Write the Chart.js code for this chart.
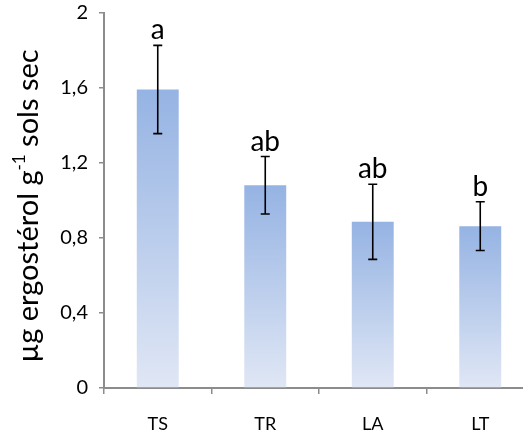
<!DOCTYPE html>
<html>
<head>
<meta charset="utf-8">
<script src="https://cdn.jsdelivr.net/npm/chart.js@4.4.1/dist/chart.umd.min.js"></script>
<style>
  html, body { margin: 0; padding: 0; background: #fff; overflow: hidden; }
  #wrap { width: 545px; height: 434px; }
</style>
</head>
<body>
<div id="wrap"><canvas id="ergoChart"></canvas></div>
<script>
// data
var categories = ["TS", "TR", "LA", "LT"];
var means = [1.59, 1.08, 0.885, 0.862];
var errors = [0.235, 0.153, 0.2, 0.13];
var letters = ["a", "ab", "ab", "b"];
var yTicks = [0, 0.4, 0.8, 1.2, 1.6, 2];
var yTickLabels = ["0", "0,4", "0,8", "1,2", "1,6", "2"];

var axisGrey = '#8c8c8c';

// error bars + significance letters + y title with superscript
var extrasPlugin = {
    id: 'extras',
    afterDatasetsDraw: function(chart) {
        var c = chart.ctx;
        var meta = chart.getDatasetMeta(0);
        var y = chart.scales.y;
        c.save();
        c.strokeStyle = '#000';
        c.lineWidth = 1.6;
        c.fillStyle = '#000';
        c.font = '28px Lato';
        c.textAlign = 'center';
        c.textBaseline = 'alphabetic';
        meta.data.forEach(function(bar, i) {
            var x = bar.x;
            var top = y.getPixelForValue(means[i] + errors[i]);
            var bot = y.getPixelForValue(means[i] - errors[i]);
            c.beginPath();
            c.moveTo(x, top); c.lineTo(x, bot);
            c.moveTo(x - 4.5, top); c.lineTo(x + 4.5, top);
            c.moveTo(x - 4.5, bot); c.lineTo(x + 4.5, bot);
            c.stroke();
            c.fillText(letters[i], x, top - 6);
        });
        c.restore();
    },
    afterDraw: function(chart) {
        var c = chart.ctx;
        var main = 'µg ergostérol g';
        var sup = '-1';
        var rest = ' sols sec';
        c.save();
        c.fillStyle = '#000';
        c.textBaseline = 'alphabetic';
        c.font = '29px Lato';
        var w1 = c.measureText(main).width;
        var w3 = c.measureText(rest).width;
        c.font = '17px Lato';
        var w2 = c.measureText(sup).width;
        var total = w1 + w2 + w3;
        c.translate(38, 206);
        c.rotate(-Math.PI / 2);
        var sx = -total / 2;
        c.font = '29px Lato';
        c.fillText(main, sx, 0);
        c.font = '17px Lato';
        c.fillText(sup, sx + w1, -13);
        c.font = '29px Lato';
        c.fillText(rest, sx + w1 + w2, 0);
        c.restore();
    }
};

var ctx = document.getElementById('ergoChart').getContext('2d');

var myChart = new Chart(ctx, {
    type: 'bar',
    data: {
        labels: categories,
        datasets: [{
            data: means,
            backgroundColor: function(context) {
                var chart = context.chart;
                if (!chart.chartArea) return '#a9c0e8';
                var y = chart.scales.y;
                var v = context.raw;
                var g = chart.ctx.createLinearGradient(0, y.getPixelForValue(v), 0, y.getPixelForValue(0));
                g.addColorStop(0, '#95b3e3');
                g.addColorStop(1, '#e0e7f5');
                return g;
            },
            borderWidth: 0,
            barPercentage: 0.39,
            categoryPercentage: 1
        }]
    },
    options: {
        responsive: true,
        maintainAspectRatio: false,
        animation: false,
        layout: { padding: { top: 12.5, right: 11, left: 0, bottom: 0 } },
        plugins: {
            legend: { display: false },
            tooltip: { enabled: false }
        },
        scales: {
            x: {
                grid: {
                    offset: true,
                    drawOnChartArea: false,
                    drawTicks: true,
                    tickLength: 6,
                    color: axisGrey,
                    lineWidth: 1.5
                },
                border: { color: axisGrey, width: 2 },
                ticks: {
                    color: '#000',
                    font: { family: 'Lato', size: 18 },
                    padding: 19
                },
                afterFit: function(scale) {
                    scale.height = 46;
                    scale.paddingLeft = 0;
                    scale.paddingRight = 0;
                }
            },
            y: {
                min: 0,
                max: 2,
                afterBuildTicks: function(scale) {
                    scale.ticks = yTicks.map(function(v) { return { value: v }; });
                },
                grid: {
                    drawOnChartArea: false,
                    drawTicks: true,
                    tickLength: 5,
                    color: axisGrey,
                    lineWidth: 1.5
                },
                border: { color: axisGrey, width: 2 },
                ticks: {
                    color: '#000',
                    font: { family: 'Lato', size: 20 },
                    padding: 11,
                    callback: function(value, index) { return yTickLabels[index]; }
                },
                afterFit: function(scale) {
                    scale.width = 104;
                    scale.paddingTop = 0;
                    scale.paddingBottom = 0;
                }
            }
        }
    },
    plugins: [extrasPlugin]
});
</script>
</body>
</html>
